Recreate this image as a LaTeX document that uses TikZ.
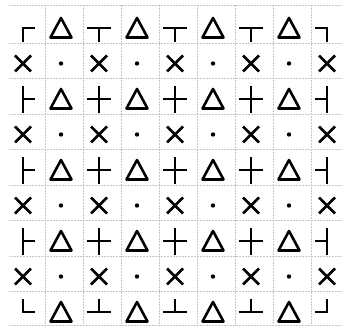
\documentclass[tikz,border=0pt]{standalone}
\usepackage{tikz}
\tikzset{
  grid line/.style={gray!45,densely dotted,line width=0.5pt},
  glyph/.style={line width=2.6pt,line cap=rect,line join=miter},
  tri/.pic={\draw[glyph,line cap=butt,line join=round] (-10.5,9.5) -- (10.5,9.5) -- (0,-10) -- cycle;},
  cross/.pic={\draw[glyph,line cap=butt] (-8,-8) -- (8,8) (-8,8) -- (8,-8);},
  dot/.pic={\fill (0,0) circle (2.2);}
}
\begin{document}
\begin{tikzpicture}[x=1pt,y=-1pt]
  \useasboundingbox (0,0) rectangle (344,328);
  \foreach \k in {0,...,7}
    \draw[grid line] ({45+38*\k},5) -- ({45+38*\k},325);
  \foreach \y in {5,43,78.5,114,149.5,185,220.5,256,291.5,325}
    \draw[grid line] (9,\y) -- (342,\y);
  \foreach \i in {1,...,9}{
    \foreach \j in {1,...,9}{
      \coordinate (c-\i-\j) at ({23+38*(\i-1)},{28+35.5*(\j-1)});
      \ifodd\i
        \ifodd\j
          \ifnum\i>1 \draw[glyph] (c-\i-\j) -- ++(-11,0); \fi
          \ifnum\i<9 \draw[glyph] (c-\i-\j) -- ++(11,0); \fi
          \ifnum\j>1 \draw[glyph] (c-\i-\j) -- ++(0,-12); \fi
          \ifnum\j<9 \draw[glyph] (c-\i-\j) -- ++(0,13); \fi
        \else
          \pic at (c-\i-\j) {cross};
        \fi
      \else
        \ifodd\j
          \pic at (c-\i-\j) {tri};
        \else
          \pic at (c-\i-\j) {dot};
        \fi
      \fi
    }
  }
\end{tikzpicture}
\end{document}
